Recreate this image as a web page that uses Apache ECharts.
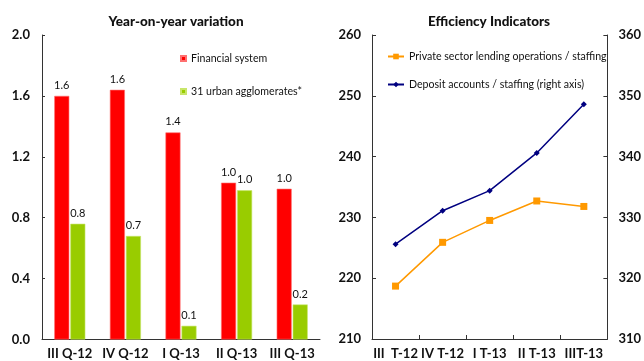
<!DOCTYPE html>
<html>
<head>
<meta charset="utf-8">
<script src="https://cdn.jsdelivr.net/npm/echarts@6/dist/echarts.min.js"></script>
<style>
  html, body { margin: 0; padding: 0; background: #fff; }
  #chart { width: 644px; height: 361px; }
</style>
</head>
<body>
<div id="chart"></div>
<script>
// Year-on-year variation (left panel)
const quarters = ['III Q-12', 'IV Q-12', 'I Q-13', 'II Q-13', 'III Q-13'];
const financialSystem = [1.60, 1.64, 1.36, 1.03, 0.99];
const urbanAgglomerates = [0.76, 0.68, 0.09, 0.98, 0.23];

// Efficiency indicators (right panel)
const periods = ['III  T-12', 'IV T-12', 'I T-13', 'II T-13', 'IIIT-13'];
const lendingPerStaff = [218.7, 225.9, 229.5, 232.7, 231.8];
const depositsPerStaff = [325.6, 331.1, 334.4, 340.6, 348.6];

const FONT = 'Lato, "DejaVu Sans", sans-serif';
const AXIS_COLOR = '#333';
const TEXT = '#111';

const chart = echarts.init(document.getElementById('chart'), null, { renderer: 'canvas' });

const axisLabelStyle = { color: TEXT, fontFamily: FONT, fontWeight: 'bold', fontSize: 13 };
const titleStyle = { fontFamily: FONT, fontWeight: 900, fontSize: 13.5, color: TEXT };
const legendText = { fontFamily: FONT, fontSize: 10.6, color: TEXT };

chart.setOption({
  animation: false,
  textStyle: { fontFamily: FONT },
  title: [
    { text: 'Year-on-year variation', left: 171, top: 10, textAlign: 'center', textStyle: titleStyle },
    { text: 'Efficiency Indicators', left: 484, top: 10, textAlign: 'center', textStyle: titleStyle }
  ],
  legend: [
    { orient: 'vertical', left: 175, top: 48, itemWidth: 5, itemHeight: 5, itemGap: 22,
      icon: 'rect', data: ['Financial system', '31 urban agglomerates*'],
      textStyle: legendText },
    { orient: 'vertical', left: 382, top: 46, itemWidth: 16, itemHeight: 7, itemGap: 17,
      data: [
        { name: 'Private sector lending operations / staffing' },
        { name: 'Deposit accounts / staffing (right axis)' }
      ],
      textStyle: legendText }
  ],
  grid: [
    { left: 42, right: 324, top: 35, bottom: 21.5 },
    { left: 372, right: 32, top: 35, bottom: 22 }
  ],
  xAxis: [
    { type: 'category', gridIndex: 0, data: quarters,
      axisLine: { lineStyle: { color: AXIS_COLOR } },
      axisTick: { show: false },
      axisLabel: Object.assign({ margin: 8, interval: 0 }, axisLabelStyle) },
    { type: 'category', gridIndex: 1, data: periods,
      axisLine: { lineStyle: { color: AXIS_COLOR } },
      axisTick: { show: true, inside: true, length: 4, lineStyle: { color: AXIS_COLOR } },
      axisLabel: Object.assign({ margin: 8, interval: 0, hideOverlap: false }, axisLabelStyle) }
  ],
  yAxis: [
    { type: 'value', gridIndex: 0, min: 0, max: 2, interval: 0.4,
      axisLine: { show: true, lineStyle: { color: AXIS_COLOR } },
      axisTick: { show: true, inside: true, length: 3, lineStyle: { color: AXIS_COLOR } },
      splitLine: { show: false },
      axisLabel: Object.assign({ margin: 12, formatter: v => v.toFixed(1) }, axisLabelStyle) },
    { type: 'value', gridIndex: 1, position: 'left', min: 210, max: 260, interval: 10,
      axisLine: { show: true, lineStyle: { color: AXIS_COLOR } },
      axisTick: { show: true, inside: true, length: 4, lineStyle: { color: AXIS_COLOR } },
      splitLine: { show: false },
      axisLabel: Object.assign({ margin: 11 }, axisLabelStyle) },
    { type: 'value', gridIndex: 1, position: 'right', min: 310, max: 360, interval: 10,
      axisLine: { show: true, lineStyle: { color: AXIS_COLOR } },
      axisTick: { show: true, inside: true, length: 4, lineStyle: { color: AXIS_COLOR } },
      splitLine: { show: false },
      axisLabel: Object.assign({ margin: 11 }, axisLabelStyle) }
  ],
  series: [
    { name: 'Financial system', type: 'bar', xAxisIndex: 0, yAxisIndex: 0,
      data: financialSystem, barWidth: 15, barGap: '7%',
      itemStyle: { color: '#FF0000', borderColor: '#FF6F6F', borderWidth: 0.6 },
      label: { show: true, position: 'top', distance: 5, formatter: p => p.value.toFixed(1),
        fontFamily: FONT, fontSize: 11, color: TEXT } },
    { name: '31 urban agglomerates*', type: 'bar', xAxisIndex: 0, yAxisIndex: 0,
      data: urbanAgglomerates, barWidth: 15, barGap: '7%',
      itemStyle: { color: '#99CC00', borderColor: '#C8E66A', borderWidth: 0.6 },
      label: { show: true, position: 'top', distance: 5, formatter: p => p.value.toFixed(1),
        fontFamily: FONT, fontSize: 11, color: TEXT } },
    { name: 'Private sector lending operations / staffing', type: 'line',
      xAxisIndex: 1, yAxisIndex: 1, data: lendingPerStaff,
      symbol: 'rect', symbolSize: 7,
      lineStyle: { color: '#FF9900', width: 1.5 },
      itemStyle: { color: '#FF9900' } },
    { name: 'Deposit accounts / staffing (right axis)', type: 'line',
      xAxisIndex: 1, yAxisIndex: 2, data: depositsPerStaff,
      symbol: 'diamond', symbolSize: 6,
      lineStyle: { color: '#000080', width: 1.5 },
      itemStyle: { color: '#000080' } }
  ]
});
</script>
</body>
</html>
